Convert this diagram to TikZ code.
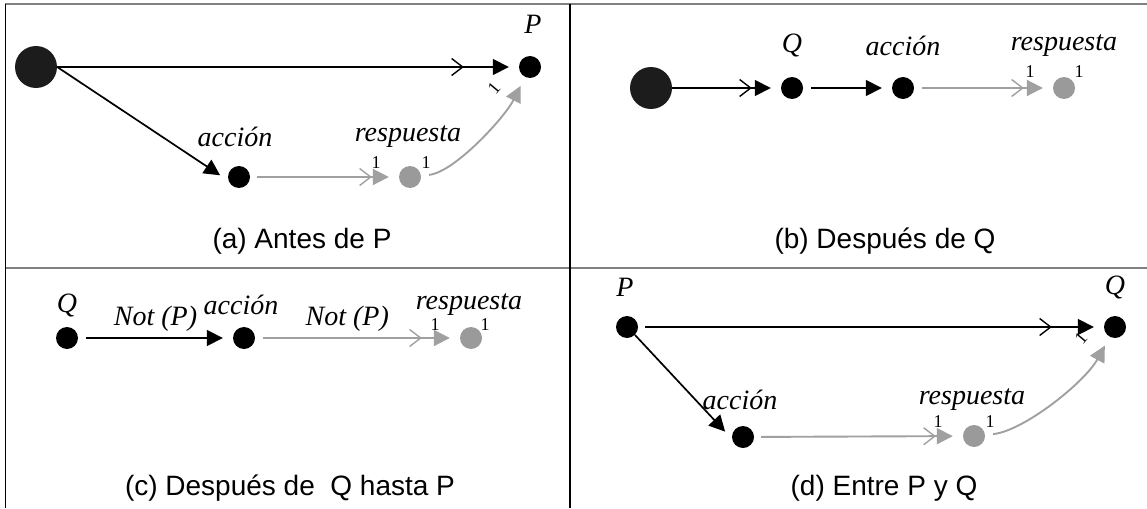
\documentclass[tikz,border=0pt]{standalone}
\usepackage{fontspec}
\setmainfont{Liberation Serif}
\newfontfamily\capfont{Liberation Sans}
\usetikzlibrary{arrows.meta,decorations.markings}
\definecolor{gn}{HTML}{9A9A9A}
\definecolor{ga}{HTML}{A0A0A0}
\definecolor{bg}{HTML}{1C1C1C}
\definecolor{frm}{HTML}{808080}
\begin{document}
\begin{tikzpicture}[x=1pt,y=-1pt,
  bdot/.style={circle,fill=black,inner sep=0pt,minimum size=22pt},
  gdot/.style={bdot,fill=gn},
  bignode/.style={circle,fill=bg,inner sep=0pt,minimum size=42pt},
  lab/.style={font=\fontsize{28}{30}\selectfont\itshape,inner sep=0pt},
  onelab/.style={font=\fontsize{18}{20}\selectfont,inner sep=0pt},
  captxt/.style={font=\capfont\fontsize{28}{32}\selectfont,inner sep=0pt},
  arr/.style={line width=1.7pt,-{Triangle[length=16pt,width=16pt]},shorten >=10pt},
  garr/.style={arr,ga,line width=1.9pt},
  chev/.style={postaction={decorate},decoration={markings,mark=at position #1 with {\arrow[line width=1.4pt]{Straight Barb[length=11pt,width=17pt]}}}},
  frameline/.style={frm,line width=2pt},
  vframe/.style={black,line width=1.5pt}
]
\useasboundingbox (0,0) rectangle (1147,508);
% frame
\draw[frameline] (5,4.5) -- (1147,4.5);
\draw[frameline] (5,267.5) -- (1147,267.5);
\draw[vframe] (5.5,4) -- (5.5,508);
\draw[vframe] (570,4) -- (570,508);

% (a)
\node[bignode] (bigA) at (36,67) {};
\node[bdot] (Pa) at (530,67) {};
\node[lab] (PaL) at (533,24) {P};
\node[bdot] (acA) at (239,177) {};
\node[lab] (acAL) at (235,137) {acción};
\node[gdot] (reA) at (410,177) {};
\node[lab] (reAL) at (408,137) {respuesta};
\node[onelab] (reA1) at (376,163) {1};
\node[onelab] (reA2) at (426,163) {1};
\node[onelab,rotate=50] (rotA) at (494,88) {1};
\draw[arr,chev=-55pt] (bigA.east) -- (Pa);
\draw[arr] (bigA.east) -- (acA.200);
\draw[garr,chev=-27pt,shorten <=7pt] (acA) -- (reA);
\draw[garr,shorten <=8pt] (reA) .. controls +(45,-5) and +(-25,50) .. (Pa);
\node[captxt] (capA) at (302,241) {(a) Antes de P};

% (b)
\node[bignode] (bigB) at (651,88) {};
\node[bdot] (Qb) at (792,88) {};
\node[lab] (QbL) at (792,46) {Q};
\node[bdot] (acB) at (903,88) {};
\node[lab] (acBL) at (903,46) {acción};
\node[gdot] (reB) at (1064,88) {};
\node[lab] (reBL) at (1064,46) {respuesta};
\node[onelab] (reB1) at (1030,72) {1};
\node[onelab] (reB2) at (1079,72) {1};
\draw[arr,chev=-29pt] (bigB) -- (Qb);
\draw[arr,shorten <=8pt] (Qb) -- (acB);
\draw[garr,chev=-29pt,shorten <=8pt] (acB) -- (reB);
\node[captxt] (capB) at (885,241) {(b) Después de Q};

% (c)
\node[bdot] (Qc) at (67,338) {};
\node[lab] (QcL) at (67,305) {Q};
\node[bdot] (acC) at (244,338) {};
\node[lab] (acCL) at (241,305) {acción};
\node[gdot] (reC) at (471,338) {};
\node[lab] (reCL) at (469,305) {respuesta};
\node[onelab] (reC1) at (435,325) {1};
\node[onelab] (reC2) at (485,325) {1};
\draw[arr,shorten <=8pt] (Qc) -- node[lab,pos=0.5,above=6pt] (np1) {Not (P)} (acC);
\draw[garr,chev=-38pt,shorten <=8pt] (acC) -- node[lab,pos=0.45,above=6pt,black] (np2) {Not (P)} (reC);
\node[captxt] (capC) at (290,488) {(c) Después de\ \ Q hasta P};

% (d)
\node[bdot] (Pd) at (627,327) {};
\node[lab] (PdL) at (625,287) {P};
\node[bdot] (Qd) at (1115,327) {};
\node[lab] (QdL) at (1115,287) {Q};
\node[bdot] (acD) at (743,437) {};
\node[lab] (acDL) at (740,400) {acción};
\node[gdot] (reD) at (974,436) {};
\node[lab] (reDL) at (972,400) {respuesta};
\node[onelab] (reD1) at (938,422) {1};
\node[onelab] (reD2) at (990,422) {1};
\node[onelab,rotate=50] (rotD) at (1081,338) {1};
\draw[arr,chev=-52pt,shorten <=7pt] (Pd) -- (Qd);
\draw[arr] (Pd.-45) -- (acD.190);
\draw[garr,chev=-27pt,shorten <=7pt] (acD) -- (reD);
\draw[garr,shorten <=8pt] (reD) .. controls +(50,-5) and +(-30,55) .. (Qd);
\node[captxt] (capD) at (884,488) {(d) Entre P y Q};
\end{tikzpicture}
\end{document}
